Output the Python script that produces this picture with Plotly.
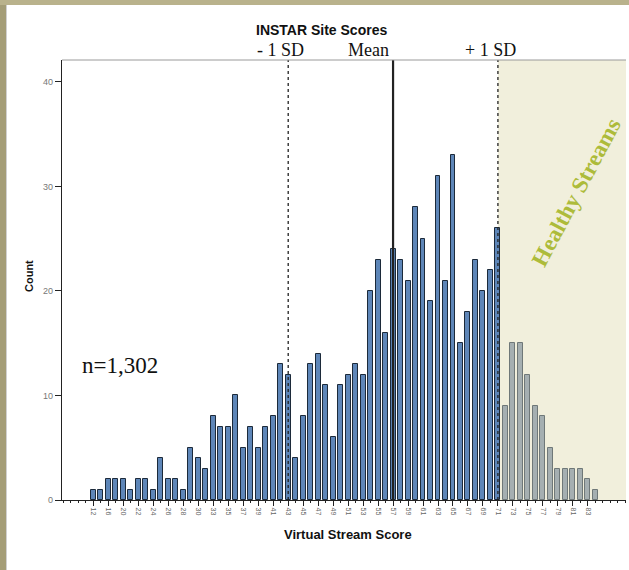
import plotly.graph_objects as go

# ---- data ----
scores = [12, 14, 16, 18, 20, 21, 22, 23, 24, 25, 26, 27, 28, 29, 30, 31,
          33, 34, 35, 36, 37, 38, 39, 40, 41, 42, 43, 44, 45, 46, 47, 48,
          49, 50, 51, 52, 53, 54, 55, 56, 57, 58, 59, 60, 61, 62, 63, 64,
          65, 66, 67, 68, 69, 70, 71, 72, 73, 74, 75, 76, 77, 78, 79, 80,
          81, 82, 83, 84]
counts = [1, 1, 2, 2, 2, 1, 2, 2, 1, 4, 2, 2, 1, 5, 4, 3,
          8, 7, 7, 10, 5, 7, 5, 7, 8, 13, 12, 4, 8, 13, 14, 11,
          6, 11, 12, 13, 12, 20, 23, 16, 24, 23, 21, 28, 25, 19, 31, 21,
          33, 15, 18, 23, 20, 22, 26, 9, 15, 15, 12, 9, 8, 5, 3, 3,
          3, 3, 2, 1]
tick_labels = ["12", "16", "20", "22", "24", "26", "28", "30", "33", "35",
               "37", "39", "41", "43", "45", "47", "49", "51", "53", "55",
               "57", "59", "61", "63", "65", "67", "69", "71", "73", "75",
               "77", "79", "81", "83"]
y_ticks = [0, 10, 20, 30, 40]
sd_low, mean_score, sd_high = 43, 57, 71
marker_labels = ["- 1 SD", "Mean", "+ 1 SD"]

# ---- derived ----
xs = list(range(len(scores)))
tickvals = [scores.index(int(t)) for t in tick_labels]
fill = ["#5e86b8" if s <= sd_high else "#a5afb1" for s in scores]
edge = ["#1c2a3a" if s <= sd_high else "#6f7878" for s in scores]
i_low, i_mean, i_high = scores.index(sd_low), scores.index(mean_score), scores.index(sd_high)

W, H = 629, 570
L, R, T, B = 62, 3, 60, 70
pw, ph = W - L - R, H - T - B


def px(x):
    return (x - L) / pw


def py(y):
    return (H - B - y) / ph


fig = go.Figure()
fig.add_trace(go.Bar(x=xs, y=counts, width=0.66,
                     marker=dict(color=fill, line=dict(color=edge, width=1)),
                     hoverinfo="y"))

shapes = []
# healthy region
shapes.append(dict(type="rect", xref="x", yref="paper", x0=i_high, x1=len(scores) + 3.2,
                   y0=0, y1=1, fillcolor="#f1efdc", line=dict(width=0), layer="below"))
# SD / mean lines
for i, dash, w in [(i_low, "dot", 1.3), (i_mean, "solid", 2.2), (i_high, "dot", 1.3)]:
    shapes.append(dict(type="line", xref="x", yref="paper", x0=i, x1=i, y0=0, y1=1,
                       line=dict(color="#222222", width=w, dash=dash)))
# top border of plot
shapes.append(dict(type="line", xref="paper", yref="paper", x0=0, x1=1, y0=1, y1=1,
                   line=dict(color="#9a9a9a", width=1)))
# slide frame
shapes.append(dict(type="rect", xref="paper", yref="paper", x0=px(0), x1=px(6),
                   y0=py(H), y1=py(0), fillcolor="#a49d77", line=dict(width=0), layer="below"))
shapes.append(dict(type="rect", xref="paper", yref="paper", x0=px(0), x1=px(W),
                   y0=py(5), y1=py(0), fillcolor="#b9b28c", line=dict(width=0), layer="below"))
shapes.append(dict(type="line", xref="paper", yref="paper", x0=px(6.5), x1=px(6.5),
                   y0=py(H), y1=py(5), line=dict(color="#d0d0d0", width=1)))

C = dict(xanchor="center", yanchor="middle", showarrow=False, borderpad=0)
annotations = [
    dict(text="<b>INSTAR Site Scores</b>", xref="paper", yref="paper", x=px(321), y=py(30),
         font=dict(family="Liberation Sans, Arial", size=14, color="#111"), **C),
    dict(text="<b>Count</b>", xref="paper", yref="paper", x=px(29), y=py(276), textangle=-90,
         font=dict(family="Liberation Sans, Arial", size=11, color="#111"), **C),
    dict(text="<b>Virtual Stream Score</b>", xref="paper", yref="paper", x=px(348), y=py(534),
         font=dict(family="Liberation Sans, Arial", size=13, color="#111"), **C),
    dict(text="n=1,302", xref="paper", yref="paper", x=px(120), y=py(365),
         font=dict(family="Liberation Serif, Times New Roman", size=23, color="#111"), **C),
    dict(text="<b>Healthy Streams</b>", xref="paper", yref="paper", x=px(576), y=py(192),
         textangle=-62,
         font=dict(family="Liberation Serif, Times New Roman", size=23, color="#adbb3a"), **C),
]
for i, lab in zip([i_low, i_mean, i_high], marker_labels):
    annotations.append(dict(text=lab, xref="x", yref="paper", x=i - (1.0 if lab != "Mean" else 3.3),
                            y=py(50),
                            font=dict(family="Liberation Serif, Times New Roman", size=18, color="#111"),
                            **C))

fig.update_layout(
    width=W, height=H,
    margin=dict(l=L, r=R, t=T, b=B),
    paper_bgcolor="white", plot_bgcolor="white",
    showlegend=False,
    bargap=0,
    shapes=shapes,
    annotations=annotations,
    xaxis=dict(range=[-4.2, len(scores) + 3.1], tickmode="array", tickvals=tickvals,
               ticktext=tick_labels, tickangle=90, ticks="outside", ticklen=5,
               tickcolor="#222", tickwidth=1,
               tickfont=dict(family="Liberation Sans, Arial", size=7, color="#666"),
               minor=dict(dtick=1, tick0=0, ticks="outside", ticklen=2, tickcolor="#222"),
               showline=True, linecolor="#222", linewidth=1.3, showgrid=False, zeroline=False),
    yaxis=dict(range=[0, 42.1], tickmode="array", tickvals=y_ticks, ticks="outside", ticklen=6,
               tickcolor="#222", tickfont=dict(family="Liberation Sans, Arial", size=9, color="#777"),
               showline=True, linecolor="#222", linewidth=1.3, showgrid=False, zeroline=False),
)

fig.write_html("out.html", config={"displayModeBar": False},
               post_script="document.body.style.margin='0px';document.body.style.overflow='hidden';")
